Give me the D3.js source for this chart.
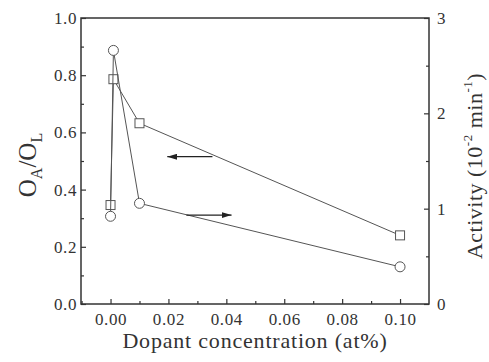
<!DOCTYPE html>
<html><head><meta charset="utf-8">
<script src="https://cdn.jsdelivr.net/npm/d3@7"></script>
<style>body{margin:0;background:#fff}svg{display:block}text{font-family:"Liberation Serif","Times New Roman",serif;fill:#333}</style>
</head><body>
<svg id="c" width="489" height="362"></svg>
<script>
const concentration = [0, 0.001, 0.01, 0.1];
const oaOl = [0.346, 0.786, 0.632, 0.24];
const activity = [0.92, 2.66, 1.056, 0.39];
const xTicks = [0, 0.02, 0.04, 0.06, 0.08, 0.10];
const yLeftTicks = [0, 0.2, 0.4, 0.6, 0.8, 1.0];
const yRightTicks = [0, 1, 2, 3];

const svg = d3.select("#c");
const L = 81, R = 429, T = 18, B = 304;
const x = d3.scaleLinear().domain([-0.0102, 0.11]).range([L, R]);
const yL = d3.scaleLinear().domain([0, 1]).range([B, T]);
const yR = d3.scaleLinear().domain([0, 3]).range([B, T]);
const ink = "#333";

// frame
svg.append("rect").attr("x", L).attr("y", T).attr("width", R - L).attr("height", B - T)
  .attr("fill", "none").attr("stroke", ink).attr("stroke-width", 1.5);

function styleAxis(g) {
  g.select(".domain").remove();
  g.selectAll("line").attr("stroke", ink).attr("stroke-width", 1.2);
  g.selectAll("text").attr("font-size", 17).attr("letter-spacing", 0.6)
    .style("font-family", '"Liberation Serif",serif').attr("fill", "#3a3a3a");
}
// x axis
const gx = svg.append("g").attr("transform", `translate(0,${B})`)
  .call(d3.axisBottom(x).tickValues(xTicks).tickFormat(d3.format(".2f")).tickSizeInner(-5).tickSizeOuter(0).tickPadding(9));
styleAxis(gx);
svg.append("g").attr("transform", `translate(0,${B})`)
  .call(d3.axisBottom(x).tickValues([-0.01, 0.01, 0.03, 0.05, 0.07, 0.09]).tickFormat("").tickSizeInner(-3).tickSizeOuter(0))
  .call(styleAxis);

// left axis
const gyl = svg.append("g").attr("transform", `translate(${L},0)`)
  .call(d3.axisLeft(yL).tickValues(yLeftTicks).tickFormat(d3.format(".1f")).tickSizeInner(-5).tickSizeOuter(0).tickPadding(4));
styleAxis(gyl);
svg.append("g").attr("transform", `translate(${L},0)`)
  .call(d3.axisLeft(yL).tickValues([0.1, 0.3, 0.5, 0.7, 0.9]).tickFormat("").tickSizeInner(-3).tickSizeOuter(0))
  .call(styleAxis);

// right axis
const gyr = svg.append("g").attr("transform", `translate(${R},0)`)
  .call(d3.axisRight(yR).tickValues(yRightTicks).tickFormat(d3.format("d")).tickSizeInner(-5).tickSizeOuter(0).tickPadding(8));
styleAxis(gyr);
svg.append("g").attr("transform", `translate(${R},0)`)
  .call(d3.axisRight(yR).tickValues([0.5, 1.5, 2.5]).tickFormat("").tickSizeInner(-3).tickSizeOuter(0))
  .call(styleAxis);

const lineCol = "#555";
// square series (left axis)
const sqPts = concentration.map((c, i) => [x(c), yL(oaOl[i])]);
svg.append("path").attr("d", d3.line()(sqPts)).attr("fill", "none").attr("stroke", lineCol).attr("stroke-width", 1);
svg.selectAll(".sq").data(sqPts).join("rect").attr("class", "sq")
  .attr("x", d => d[0] - 4.5).attr("y", d => d[1] - 4.5).attr("width", 9).attr("height", 9)
  .attr("fill", "#fff").attr("stroke", lineCol).attr("stroke-width", 1);

// circle series (right axis)
const ciPts = concentration.map((c, i) => [x(c), yR(activity[i])]);
svg.append("path").attr("d", d3.line()(ciPts)).attr("fill", "none").attr("stroke", lineCol).attr("stroke-width", 1);
svg.selectAll(".ci").data(ciPts).join("circle").attr("class", "ci")
  .attr("cx", d => d[0]).attr("cy", d => d[1]).attr("r", 5)
  .attr("fill", "#fff").attr("stroke", lineCol).attr("stroke-width", 1);

// arrows
const defs = svg.append("defs");
defs.append("marker").attr("id", "ah").attr("viewBox", "0 0 10 6").attr("refX", 10).attr("refY", 3)
  .attr("markerWidth", 10).attr("markerHeight", 6).attr("markerUnits", "userSpaceOnUse").attr("orient", "auto")
  .append("path").attr("d", "M0,0 L10,3 L0,6 Z").attr("fill", "#222");
svg.append("line").attr("x1", x(0.0352)).attr("y1", yL(0.515)).attr("x2", x(0.0196)).attr("y2", yL(0.515))
  .attr("stroke", "#222").attr("stroke-width", 1.2).attr("marker-end", "url(#ah)");
svg.append("line").attr("x1", x(0.0262)).attr("y1", yL(0.311)).attr("x2", x(0.0418)).attr("y2", yL(0.311))
  .attr("stroke", "#222").attr("stroke-width", 1.2).attr("marker-end", "url(#ah)");

// axis titles
svg.append("text").attr("x", 255).attr("y", 348).attr("text-anchor", "middle")
  .attr("font-size", 22).attr("letter-spacing", 0.8).text("Dopant concentration (at%)");

const lt = svg.append("text").attr("transform", `translate(36,${(T + B) / 2 + 4}) rotate(-90)`)
  .attr("text-anchor", "middle").attr("font-size", 25);
lt.append("tspan").text("O");
lt.append("tspan").attr("font-size", 16).attr("dy", 6).text("A");
lt.append("tspan").attr("dy", -6).text("/O");
lt.append("tspan").attr("font-size", 16).attr("dy", 6).text("L");

const rt = svg.append("text").attr("transform", `translate(477,${(T + B) / 2 + 5}) rotate(-90)`)
  .attr("text-anchor", "middle").attr("dominant-baseline", "middle").attr("font-size", 22).attr("letter-spacing", 0.5);
rt.append("tspan").text("Activity (10");
rt.append("tspan").attr("font-size", 13).attr("dy", -8).text("-2");
rt.append("tspan").attr("dy", 8).text(" min");
rt.append("tspan").attr("font-size", 13).attr("dy", -8).text("-1");
rt.append("tspan").attr("dy", 8).text(")");
</script>
</body></html>
